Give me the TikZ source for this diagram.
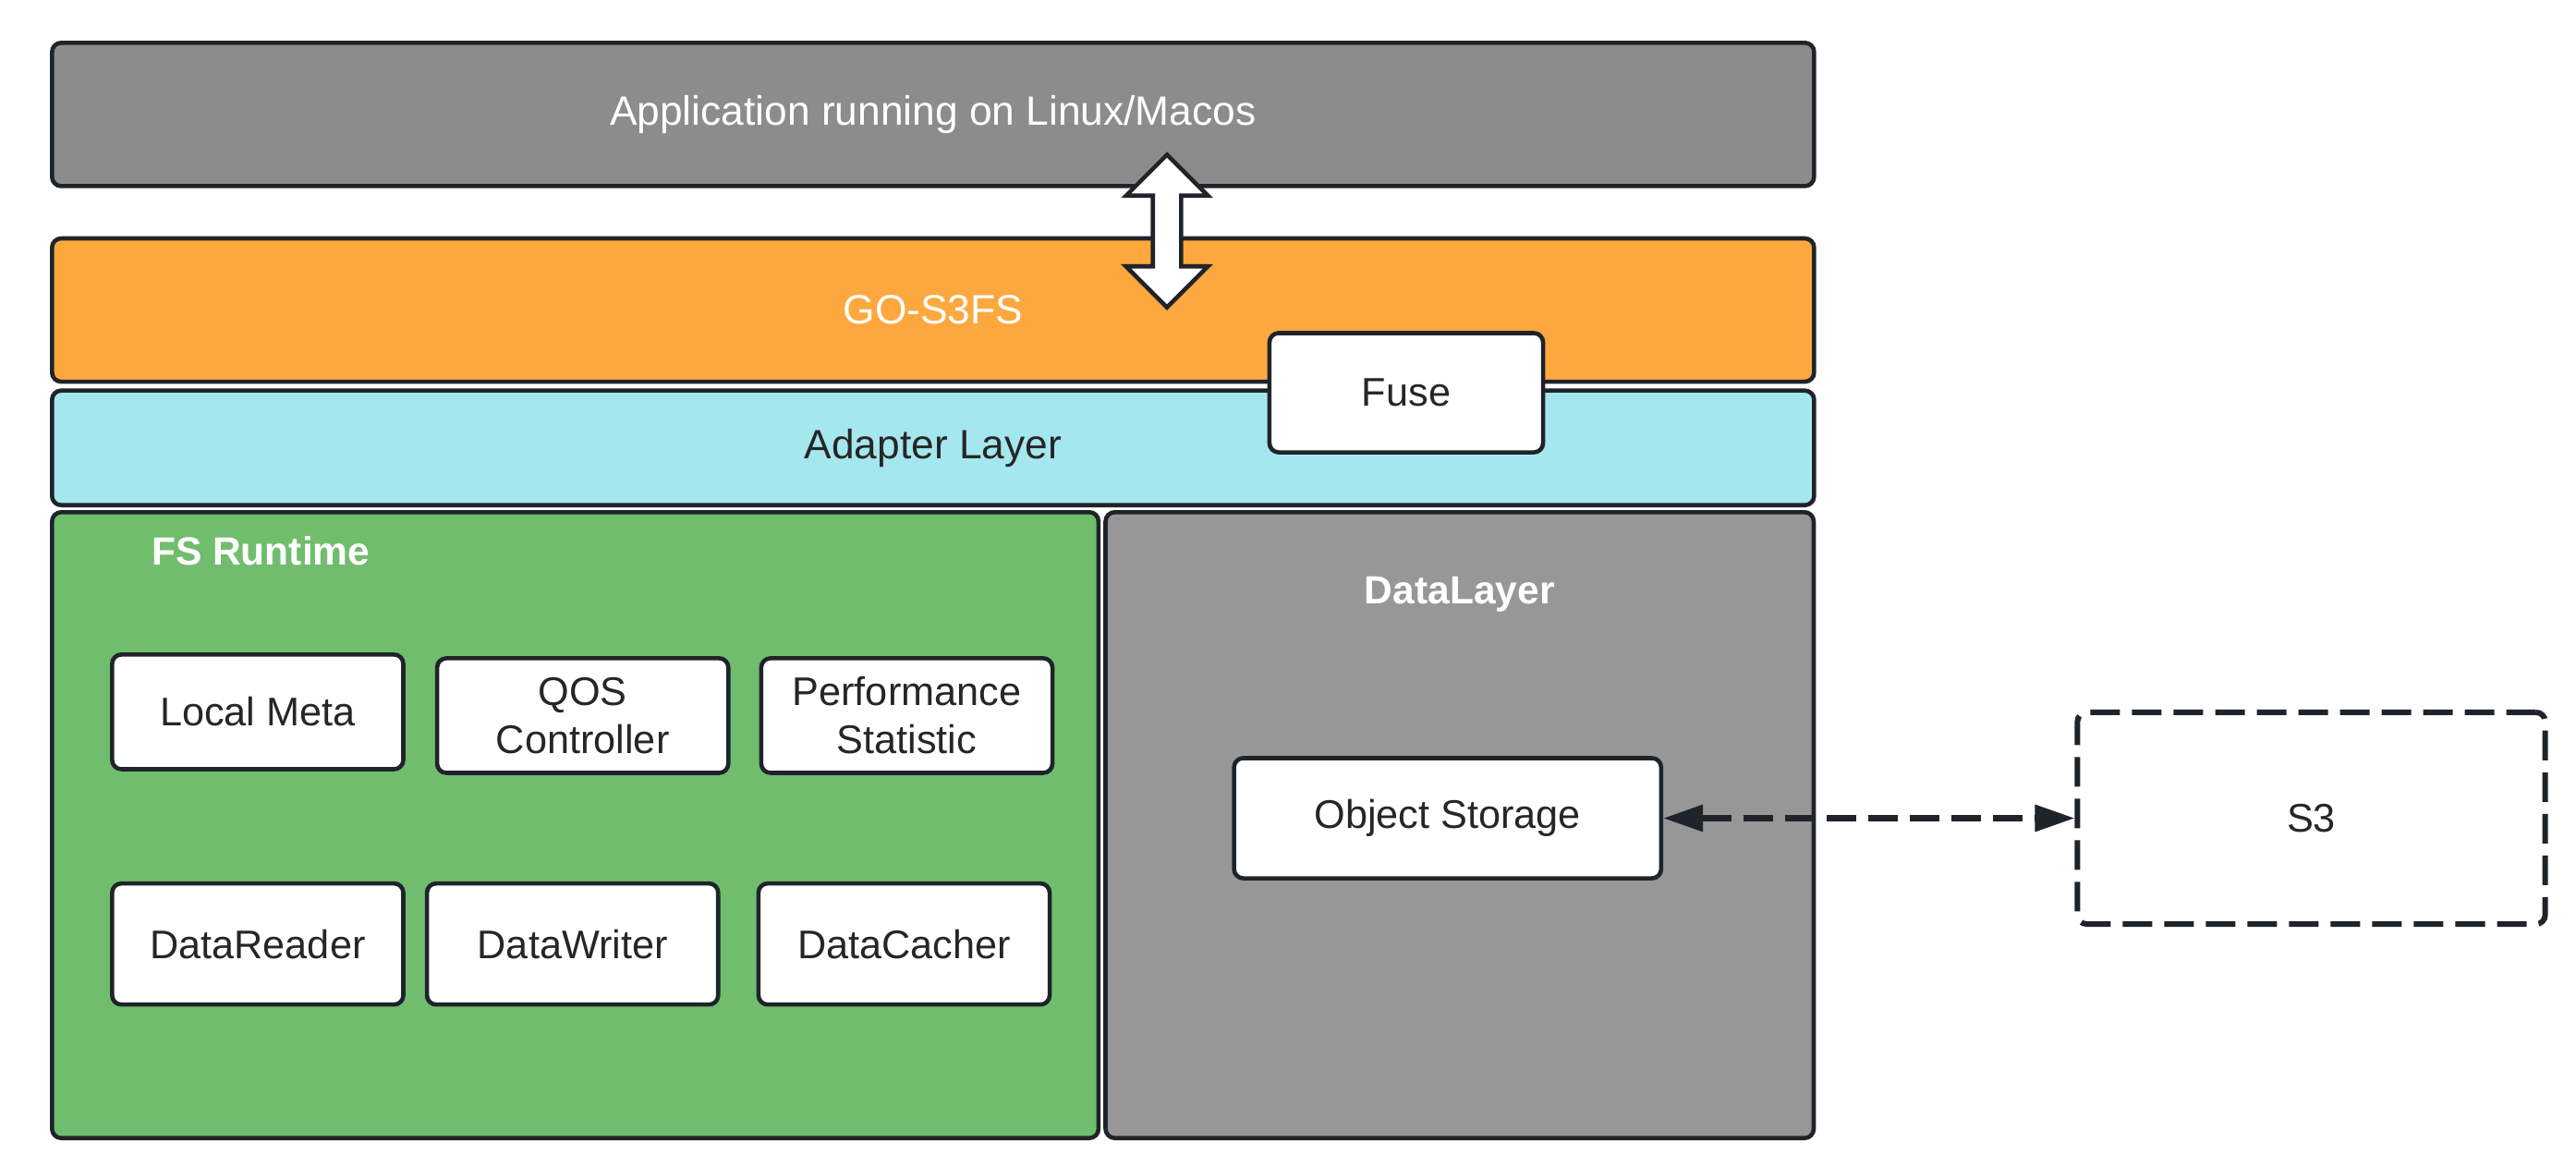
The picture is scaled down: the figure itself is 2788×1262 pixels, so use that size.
\documentclass[tikz,border=0pt]{standalone}
\usepackage{fontspec}
\setmainfont{Liberation Sans}
\usetikzlibrary{positioning,shapes.arrows,arrows.meta}
\definecolor{edge}{HTML}{1F242A}
\definecolor{darktext}{HTML}{262626}
\definecolor{appgray}{HTML}{8C8C8C}
\definecolor{goorange}{HTML}{FDA83F}
\definecolor{adaptcyan}{HTML}{A5E7EE}
\definecolor{rtgreen}{HTML}{71BD6E}
\definecolor{dlgray}{HTML}{979797}
\tikzstyle{layer} = [draw=edge,
					 line width=1.3pt,
					 rounded corners=0.1cm,
					 minimum width=19.06cm,
					 align=center,
					 anchor=north west,
					 font=\fontsize{12.6}{14.8}\selectfont]
\tikzstyle{block} = [draw=edge,
					 line width=1.3pt,
					 rounded corners=0.1cm,
					 minimum height=6.77cm,
					 anchor=north west]
\tikzstyle{title} = [text=white,
					 inner sep=0pt,
					 outer sep=0pt,
					 font=\fontsize{12.1}{14.8}\selectfont\bfseries]
\tikzstyle{module} = [draw=edge,
					  line width=1.3pt,
					  rounded corners=0.1cm,
					  fill=white,
					  text=darktext,
					  minimum width=3.15cm,
					  minimum height=1.24cm,
					  align=center,
					  font=\fontsize{12.3}{14.8}\selectfont]
\tikzstyle{remote} = [draw=edge,
					  line width=1.7pt,
					  dash pattern=on 0.32cm off 0.13cm,
					  rounded corners=0.1cm,
					  text=darktext,
					  minimum width=5.06cm,
					  minimum height=2.29cm,
					  font=\fontsize{12.3}{14.8}\selectfont]
\tikzstyle{link} = [draw=edge,
					line width=1.8pt,
					dash pattern=on 0.32cm off 0.13cm,
					{Triangle[length=0.43cm,width=0.28cm]}-{Triangle[length=0.43cm,width=0.28cm]}]

\begin{document}
\begin{tikzpicture}[x=0.01cm, y=0.01cm]
    \useasboundingbox (0,0) rectangle (2788,-1262);

        %%%%%%%%%%
        % LAYERS %
        %%%%%%%%%%
        \node[layer, fill=appgray, text=white, minimum height=1.55cm] (app) at (54,-44) {Application running on Linux/Macos};
        \node[layer, fill=goorange, text=white, minimum height=1.55cm, below=0.52cm of app] (gos3fs) {GO-S3FS};
        \node[layer, fill=adaptcyan, text=darktext, minimum height=1.24cm, below=0.05cm of gos3fs] (adapter) {Adapter Layer};
        \node[block, fill=rtgreen, minimum width=11.32cm, below=0.03cm of adapter.south west, anchor=north west] (rt) {};
        \node[block, fill=dlgray, minimum width=7.66cm, right=0.03cm of rt] (dl) {};
        \node[module, minimum width=2.96cm, minimum height=1.29cm] (fuse) at (1522,-425) {Fuse};
        \node[double arrow, draw=edge, line width=1.3pt, fill=white, rotate=90, inner xsep=0pt, inner ysep=0.13cm,
              minimum height=1.65cm, double arrow head extend=0.29cm] (io) at (1263,-250) {};

        %%%%%%%%%%%%%%
        % FS RUNTIME %
        %%%%%%%%%%%%%%
        \node[title, below right=0.29cm and 1.1cm of rt.north west] (rtlabel) {FS Runtime};
        \node[module, below right=1.54cm and 0.65cm of rt.north west] (localmeta) {Local Meta};
        \node[module, right=0.32cm of localmeta, yshift=-0.04cm] (qos) {QOS\\Controller};
        \node[module, right=0.31cm of qos] (perf) {Performance\\Statistic};
        \node[module, below=1.19cm of localmeta, minimum height=1.31cm] (reader) {DataReader};
        \node[module, right=0.21cm of reader, minimum height=1.31cm] (writer) {DataWriter};
        \node[module, right=0.39cm of writer, minimum height=1.31cm] (cacher) {DataCacher};

        %%%%%%%%%%%%%
        % DATALAYER %
        %%%%%%%%%%%%%
        \node[title, below=0.72cm of dl.north] (dllabel) {DataLayer};
        \node[module, minimum width=4.62cm, minimum height=1.30cm, below right=2.66cm and 1.39cm of dl.north west] (objstore) {Object Storage};
        \node[remote, right=4.45cm of objstore] (s3) {S3};
        \draw[link] (objstore) -- (s3);

\end{tikzpicture}
\end{document}
